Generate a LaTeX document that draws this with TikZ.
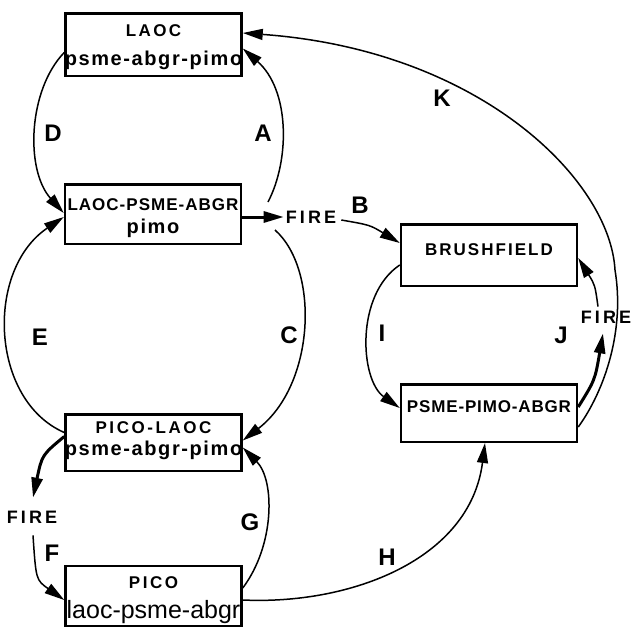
\documentclass[tikz,border=0pt]{standalone}
\usepackage{fontspec}
\setmainfont{Liberation Sans}
\newfontfamily\capfont[LetterSpace=14]{Liberation Sans}
\newfontfamily\lowfont[LetterSpace=8]{Liberation Sans}
\newfontfamily\firefont[LetterSpace=17]{Liberation Sans}
\usepackage{tikz}
\usetikzlibrary{arrows.meta,calc}

\begin{document}
\begin{tikzpicture}[x=1pt, y=-1pt, >={Triangle[length=20pt,width=11pt]},
    stand/.style={draw, line width=2.5pt, minimum width=176pt, inner sep=0pt},
    uptext/.style={inner sep=0pt, font=\capfont\bfseries\fontsize{17}{20}\selectfont},
    lowtext/.style={inner sep=0pt, font=\lowfont\bfseries\fontsize{20}{24}\selectfont},
    tag/.style={inner sep=0pt, font=\bfseries\fontsize{24}{28}\selectfont},
    firetext/.style={inner sep=0pt, font=\firefont\bfseries\fontsize{18}{21}\selectfont},
    conn/.style={->, line width=1.5pt},
    heavy/.style={->, line width=3pt}]
    \useasboundingbox (0,0) rectangle (632,629);

    % Stand boxes
    \node[stand, minimum height=62.5pt] (laoc) at (153.5,44.5) {};
    \node[stand, minimum height=59.5pt] (lpa) at (153,214) {};
    \node[stand, minimum height=56.5pt] (pl) at (153.5,442.5) {};
    \node[stand, minimum height=60pt] (pico) at (153.5,596) {};
    \node[stand, minimum height=61.5pt] (brush) at (489,255) {};
    \node[stand, minimum height=57.5pt] (ppa) at (489,413) {};

    % Box texts
    \node[uptext] (laoc-up) at (153.5,31) {LAOC};
    \node[lowtext] (laoc-low) at (153.5,60) {psme-abgr-pimo};
    \node[uptext] (lpa-up) at (153,205) {\addfontfeature{LetterSpace=6}LAOC-PSME-ABGR};
    \node[lowtext] (lpa-low) at (153,228) {pimo};
    \node[uptext] (pl-up) at (153.5,428) {\addfontfeature{LetterSpace=15}PICO-LAOC};
    \node[lowtext] (pl-low) at (153.5,450) {psme-abgr-pimo};
    \node[uptext] (pico-up) at (153.5,583) {\addfontfeature{LetterSpace=15}PICO};
    \node[inner sep=0pt, font=\fontsize{25}{30}\selectfont] (pico-low) at (153.5,612) {laoc-psme-abgr};
    \node[uptext] (brush-up) at (489,250) {\addfontfeature{LetterSpace=12}BRUSHFIELD};
    \node[uptext, font=\capfont\bfseries\fontsize{17}{20}\selectfont\addfontfeature{LetterSpace=5}] (ppa-up) at (489,407) {PSME-PIMO-ABGR};

    % Fire labels
    \node[firetext] (fire1) at (311,217) {FIRE};
    \node[firetext] (fire2) at (32,517) {FIRE};
    \node[firetext] (fire3) at (606,317) {FIRE};

    % Branch points beside the upper fire arrow
    \coordinate (abranch) at (268,202);
    \coordinate (cbranch) at (275,230);
    \coordinate (kbend) at (615,270);

    % Left cycle
    \draw[heavy] ($(lpa.east)+(0,3)$) -- ($(fire1.west)+(-2,0)$);
    \draw[conn] (abranch) .. controls (290,160) and (290,90) .. ($(laoc.east)+(0,4)$);
    \draw[conn] ($(laoc.west)+(0,8)$) .. controls (28,90) and (25,170) .. ($(lpa.west)+(0,-1)$);
    \draw[conn] (cbranch) .. controls (320,270) and (315,385) .. ($(pl.east)+(0,-2)$);
    \draw[conn] ($(pl.west)+(0,-10)$) .. controls (-10,400) and (-15,270) .. ($(lpa.west)+(0,3)$);
    \draw[heavy] ($(pl.west)+(0,-6)$) .. controls (42,455) .. ($(fire2.north)+(1,-13)$);
    \draw[conn] ($(fire2.south)+(1,12)$) .. controls (36,580) .. ($(pico.west)+(0,4)$);
    \draw[conn] ($(pico.east)+(0,-8)$) .. controls (275,545) and (275,480) .. ($(pl.east)+(0,5)$);

    % Right cycle
    \draw[conn] ($(fire1.east)+(5,3)$) .. controls (370,225) .. ($(brush.west)+(0,-12)$);
    \draw[conn] ($(pico.east)+(0,4)$) .. controls (350,605) and (470,560) .. ($(ppa.south)+(-4,0)$);
    \draw[conn] ($(brush.west)+(0,10)$) .. controls (355,295) and (360,380) .. ($(ppa.west)+(0,-5)$);
    \draw[heavy] ($(ppa.east)+(0,-6)$) .. controls (595,380) .. ($(fire3.south)+(-3,10)$);
    \draw[conn] ($(fire3.north)+(-8,-4)$) .. controls (595,285) .. ($(brush.east)+(0,3)$);
    \draw[conn] ($(ppa.east)+(0,14)$) .. controls (605,390) and (625,330) .. (kbend)
        .. controls (610,180) and (480,50) .. ($(laoc.east)+(0,-11.5)$);

    % Transition letters
    \node[tag] (tA) at (263,133) {A};
    \node[tag] (tB) at (360,205) {B};
    \node[tag] (tC) at (289,335) {C};
    \node[tag] (tD) at (53,133) {D};
    \node[tag] (tE) at (40,337) {E};
    \node[tag] (tF) at (52,553) {F};
    \node[tag] (tG) at (250,522) {G};
    \node[tag] (tH) at (387,557) {H};
    \node[tag] (tI) at (382,333) {I};
    \node[tag] (tJ) at (561,335) {J};
    \node[tag] (tK) at (442,98) {K};
\end{tikzpicture}
\end{document}
